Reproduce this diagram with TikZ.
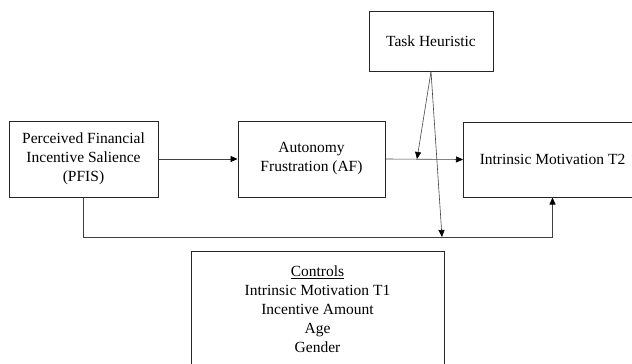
\documentclass[tikz,border=0pt]{standalone}
\usepackage{fontspec}
\setmainfont{Liberation Serif}
\usetikzlibrary{arrows.meta}
\tikzset{
  varbox/.style = {draw = black!85, line width = 1pt, align = center, inner sep = 2pt,
    font = \fontsize{15.5}{19}\selectfont},
  path arrow/.style = {draw = gray!50!black, line width = .6pt,
    -{Triangle[length = 7pt, width = 6pt, fill = black, color = black]}},
  path line/.style = {draw = gray!50!black, line width = .6pt}
}
\begin{document}
\begin{tikzpicture}[x = 1pt, y = -1pt]
\useasboundingbox (0,0) rectangle (632,364);
\node[varbox, minimum width = 149pt, minimum height = 76pt] (pfis) at (83.5,159)
  {Perceived Financial\\Incentive Salience\\(PFIS)};
\node[varbox, minimum width = 147pt, minimum height = 76pt] (af) at (311.5,159)
  {Autonomy\\Frustration (AF)};
\node[varbox, minimum width = 124pt, minimum height = 60pt] (th) at (431,41)
  {Task Heuristic};
\node[varbox, anchor = west, minimum width = 178pt, minimum height = 75pt] (imt) at (463,159.5)
  {Intrinsic Motivation T2};
\node[varbox, anchor = north, minimum width = 253pt, minimum height = 116pt, text depth = 0pt] (ctrl) at (317.5,251)
  {\underline{Controls}\\Intrinsic Motivation T1\\Incentive Amount\\Age\\Gender};
% paths
\coordinate (base) at (0,237);
\coordinate (mod) at (417,159);
\coordinate (cov) at (442,237);
\draw[path arrow] (pfis.east) -- (af.west);
\draw[path arrow] (af.east) -- (imt.west);
\draw[path arrow] (pfis.south) -- (pfis.south |- base) -| (imt.south);
\draw[path arrow] (th.south) -- (mod);
\draw[path arrow] (th.south) -- (cov);
\end{tikzpicture}
\end{document}
